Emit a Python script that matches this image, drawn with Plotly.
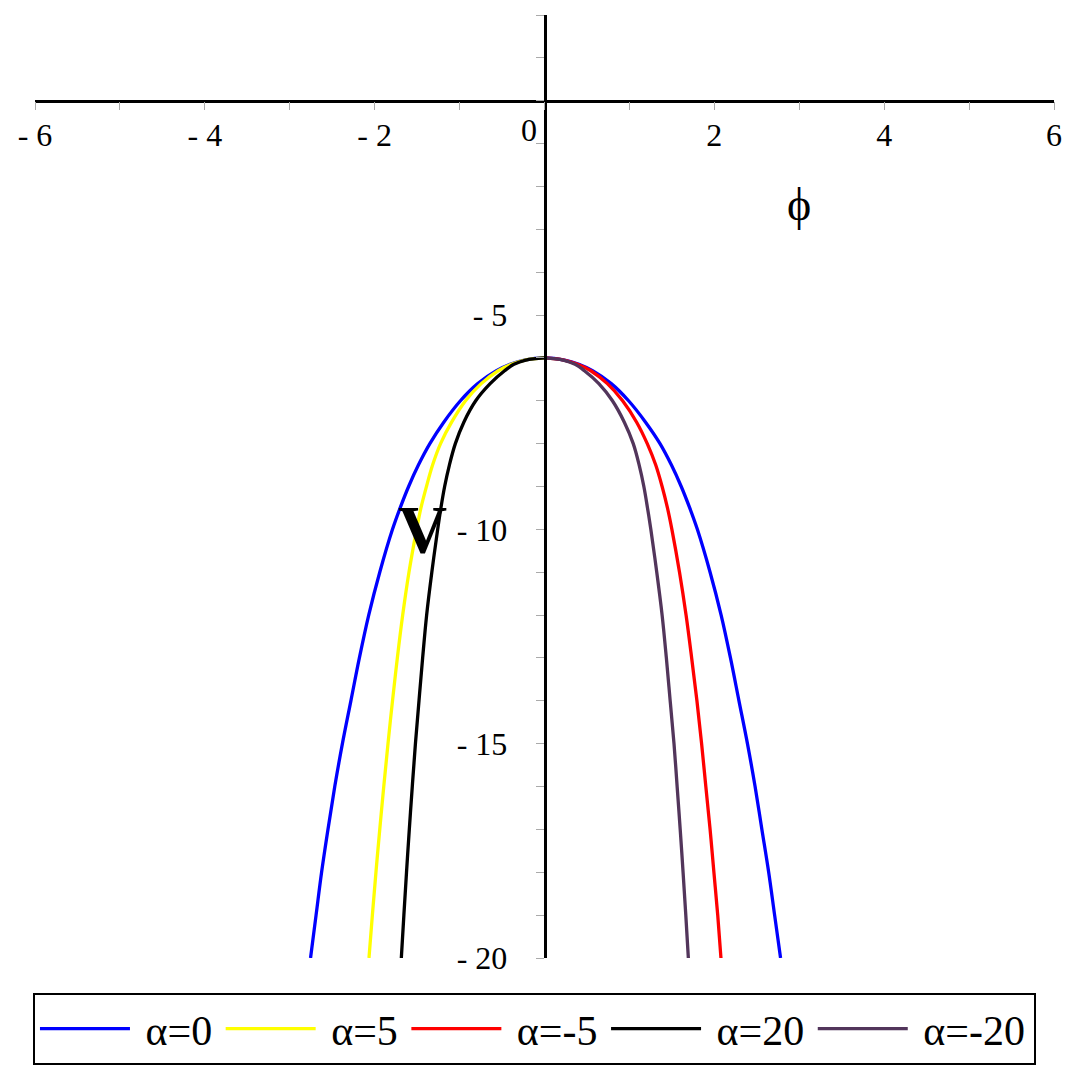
import plotly.graph_objects as go

v_levels = [-6, -6.05, -6.15, -6.3, -6.6, -7, -7.5, -8, -8.5, -9, -9.5, -10,
            -11, -12, -13, -14, -15, -16, -17, -18, -19, -20]

# |phi| at each level
phi_a0_left = [0, 0.236, 0.405, 0.566, 0.786, 0.99, 1.186, 1.35, 1.485, 1.6, 1.70, 1.79,
               1.94, 2.07, 2.18, 2.28, 2.38, 2.47, 2.55, 2.625, 2.69, 2.755]
phi_a0_right = [0, 0.236, 0.405, 0.566, 0.786, 0.99, 1.19, 1.36, 1.495, 1.61, 1.71, 1.80,
                1.95, 2.08, 2.19, 2.29, 2.39, 2.48, 2.56, 2.64, 2.71, 2.78]
phi_a5_left = [0, 0.23, 0.39, 0.545, 0.745, 0.93, 1.094, 1.224, 1.318, 1.39, 1.455, 1.506,
               1.596, 1.67, 1.733, 1.79, 1.843, 1.893, 1.94, 1.985, 2.027, 2.067]
phi_am5_right = [0, 0.23, 0.39, 0.545, 0.74, 0.92, 1.085, 1.21, 1.31, 1.385, 1.448, 1.50,
                 1.59, 1.667, 1.733, 1.795, 1.85, 1.9, 1.95, 1.995, 2.04, 2.078]
phi_a20_left = [0, 0.22, 0.36, 0.47, 0.64, 0.81, 0.95, 1.05, 1.12, 1.176, 1.22, 1.258,
                1.327, 1.388, 1.435, 1.478, 1.52, 1.557, 1.592, 1.625, 1.656, 1.686]
phi_am20_right = [0, 0.22, 0.36, 0.47, 0.64, 0.80, 0.94, 1.045, 1.115, 1.17, 1.213, 1.252,
                  1.322, 1.385, 1.435, 1.48, 1.525, 1.562, 1.598, 1.632, 1.664, 1.694]

labels = ["α=0", "α=5", "α=-5", "α=20", "α=-20"]
colors = ["#0000FF", "#FFFF00", "#FF0000", "#000000", "#52355B"]

serif = "Liberation Serif"

curves = [
    ([-p for p in phi_a0_left[::-1]] + phi_a0_right[1:], v_levels[::-1] + v_levels[1:]),
    ([-p for p in phi_a5_left], v_levels),
    (phi_am5_right, v_levels),
    ([-p for p in phi_a20_left], v_levels),
    (phi_am20_right, v_levels),
]

fig = go.Figure()
for (xs, ys), name, col in zip(curves, labels, colors):
    fig.add_trace(go.Scatter(
        x=xs, y=ys, mode="lines", name="\u00a0" + name + "\u200a",
        line=dict(color=col, width=3.3, shape="spline", smoothing=1.0),
        hoverinfo="skip",
    ))

x_ticks = [-6, -4, -2, 2, 4, 6]
y_ticks = [-5, -10, -15, -20]

fig.update_layout(
    width=1079, height=1079,
    paper_bgcolor="white", plot_bgcolor="white",
    margin=dict(l=27, r=33, t=7, b=129),
    font=dict(family=serif, color="black", size=32),
    xaxis=dict(
        range=[-6, 6], anchor="free", position=20 / 22,
        showgrid=False, zeroline=False,
        showline=True, linecolor="black", linewidth=2.5,
        tickmode="array", tickvals=x_ticks,
        ticktext=["- %d" % -t if t < 0 else str(t) for t in x_ticks],
        ticks="outside", ticklen=8, tickcolor="#aaaaaa", tickwidth=1,
        ticklabelstandoff=-3,
        minor=dict(tickmode="linear", tick0=0, dtick=1, ticks="outside",
                   ticklen=8, tickcolor="#aaaaaa", tickwidth=1),
        tickfont=dict(family=serif, size=32),
    ),
    yaxis=dict(
        range=[-20, 2], anchor="free", position=0.5,
        showgrid=False, zeroline=False,
        showline=True, linecolor="black", linewidth=2.5,
        tickmode="array", tickvals=y_ticks,
        ticktext=["- %d" % -t for t in y_ticks],
        ticks="outside", ticklen=8, tickcolor="#aaaaaa", tickwidth=1,
        ticklabelstandoff=22,
        minor=dict(tickmode="linear", tick0=0, dtick=1, ticks="outside",
                   ticklen=8, tickcolor="#aaaaaa", tickwidth=1),
        tickfont=dict(family=serif, size=32),
    ),
    showlegend=True,
    legend=dict(
        orientation="h", x=-0.002, xanchor="left", y=-0.037, yanchor="top",
        bordercolor="black", borderwidth=2, bgcolor="white",
        font=dict(family=serif, size=42), itemwidth=90,
    ),
    annotations=[
        dict(x=3, y=-2.43, xref="x", yref="y", text="\u03d5", showarrow=False,
             font=dict(family=serif, size=46)),
        dict(x=-1.435, y=-10.0, xref="x", yref="y", text="<b>V</b>", showarrow=False,
             font=dict(family=serif, size=68)),
        dict(x=-0.18, y=-0.68, xref="x", yref="y", text="0", showarrow=False,
             font=dict(family=serif, size=32)),
    ],
)

fig.write_html("out.html")
